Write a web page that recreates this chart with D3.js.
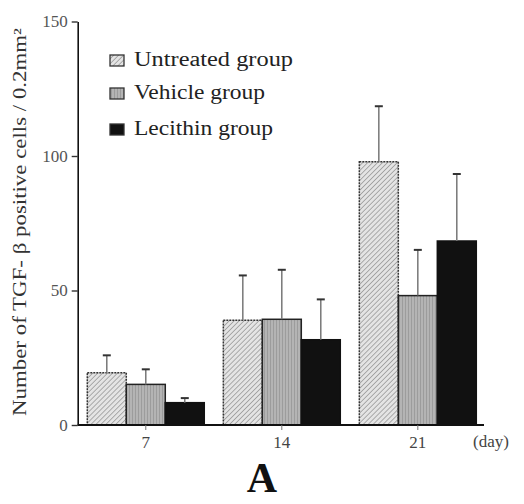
<!DOCTYPE html>
<html><head><meta charset="utf-8">
<script src="https://cdn.jsdelivr.net/npm/d3@7"></script>
<style>
html,body{margin:0;padding:0;background:#fff;}
svg{display:block;font-family:"Liberation Serif","DejaVu Serif",serif;}
</style></head>
<body>
<svg id="chart" width="524" height="504"></svg>
<script>
const days = ["7", "14", "21"];
const seriesNames = ["Untreated group", "Vehicle group", "Lecithin group"];
const untreatedMean = [19.4, 38.9, 97.9];
const untreatedErr  = [25.9, 55.6, 118.5];
const vehicleMean   = [15.1, 39.3, 48.1];
const vehicleErr    = [20.7, 57.7, 65.1];
const lecithinMean  = [8.3, 31.7, 68.4];
const lecithinErr   = [10.0, 46.7, 93.3];
const yTicks = [0, 50, 100, 150];

const means = [untreatedMean, vehicleMean, lecithinMean];
const errs = [untreatedErr, vehicleErr, lecithinErr];
const data = [];
days.forEach((d, i) => seriesNames.forEach((s, j) => data.push({day: d, series: s, idx: j, mean: means[j][i], top: errs[j][i]})));

const svg = d3.select("#chart");
const defs = svg.append("defs");
const h = defs.append("pattern").attr("id", "hatch").attr("patternUnits", "userSpaceOnUse")
  .attr("width", 3.5).attr("height", 3.5).attr("patternTransform", "rotate(45)");
h.append("rect").attr("width", 3.5).attr("height", 3.5).attr("fill", "#e4e4e4");
h.append("line").attr("x1", 0).attr("y1", 0).attr("x2", 0).attr("y2", 3.5).attr("stroke", "#8a8a8a").attr("stroke-width", 1.3);
const v = defs.append("pattern").attr("id", "vstripe").attr("patternUnits", "userSpaceOnUse")
  .attr("width", 3).attr("height", 3);
v.append("rect").attr("width", 3).attr("height", 3).attr("fill", "#b4b4b4");
v.append("line").attr("x1", 0.5).attr("y1", 0).attr("x2", 0.5).attr("y2", 3).attr("stroke", "#9c9c9c").attr("stroke-width", 1);

const fills = ["url(#hatch)", "url(#vstripe)", "#111"];
const strokes = ["#333", "#222", "#111"];
const dashes = ["2,1", null, null];
const legendWidths = [159, 131, 139];

const y = d3.scaleLinear().domain([0, 150]).range([425, 21.5]);
const x0 = d3.scaleBand().domain(days).range([87.3, 476.3]).paddingInner(0.14).paddingOuter(0);
const x1 = d3.scaleBand().domain(seriesNames).range([0, x0.bandwidth()]).padding(0);

// bars
const g = svg.append("g");
g.selectAll("rect.bar").data(data).enter().append("rect").attr("class", "bar")
  .attr("x", d => x0(d.day) + x1(d.series))
  .attr("y", d => y(d.mean))
  .attr("width", x1.bandwidth())
  .attr("height", d => y(0) - y(d.mean))
  .attr("fill", d => fills[d.idx])
  .attr("stroke", d => strokes[d.idx])
  .attr("stroke-width", 1.5)
  .attr("stroke-dasharray", d => dashes[d.idx]);

// error bars
g.selectAll("line.err").data(data).enter().append("line").attr("class", "err")
  .attr("x1", d => x0(d.day) + x1(d.series) + x1.bandwidth() / 2)
  .attr("x2", d => x0(d.day) + x1(d.series) + x1.bandwidth() / 2)
  .attr("y1", d => y(d.mean)).attr("y2", d => y(d.top))
  .attr("stroke", "#777").attr("stroke-width", 1.5);
g.selectAll("line.cap").data(data).enter().append("line").attr("class", "cap")
  .attr("x1", d => x0(d.day) + x1(d.series) + x1.bandwidth() / 2 - 4)
  .attr("x2", d => x0(d.day) + x1(d.series) + x1.bandwidth() / 2 + 4)
  .attr("y1", d => y(d.top)).attr("y2", d => y(d.top))
  .attr("stroke", "#333").attr("stroke-width", 2);

// y axis
const yAxis = svg.append("g").attr("transform", "translate(77.7,0)")
  .call(d3.axisLeft(y).tickValues(yTicks).tickSize(6).tickPadding(4).tickSizeOuter(0));
yAxis.select(".domain").attr("stroke", "#111").attr("stroke-width", 1.6);
yAxis.selectAll(".tick line").attr("stroke", "#333").attr("stroke-width", 1.4);
yAxis.selectAll(".tick text").attr("font-size", 17).attr("fill", "#555")
  .attr("font-family", "Liberation Serif, serif");

// x axis
svg.append("line").attr("x1", 77.7).attr("x2", 484).attr("y1", y(0)).attr("y2", y(0))
  .attr("stroke", "#111").attr("stroke-width", 1.8);
const xAxis = svg.append("g").attr("transform", `translate(0,${y(0)})`)
  .call(d3.axisBottom(x0).tickSize(5).tickPadding(6).tickSizeOuter(0));
xAxis.select(".domain").remove();
xAxis.selectAll(".tick line").attr("stroke", "#777").attr("stroke-width", 1);
xAxis.selectAll(".tick text").attr("font-size", 17).attr("fill", "#444")
  .attr("font-family", "Liberation Serif, serif");

svg.append("text").attr("x", 491).attr("y", 447).attr("text-anchor", "middle")
  .attr("font-size", 17).attr("fill", "#444").text("(day)");

// y label
svg.append("text").attr("transform", "translate(26,222) rotate(-90)")
  .attr("text-anchor", "middle").attr("font-size", 18).attr("fill", "#333")
  .attr("textLength", 388).attr("lengthAdjust", "spacingAndGlyphs")
  .text("Number of TGF- β positive cells / 0.2mm²");

// legend
const legendY = [66, 99, 135];
const lg = svg.append("g");
seriesNames.forEach((s, j) => {
  lg.append("rect").attr("x", 110).attr("y", legendY[j] - 11).attr("width", 14).attr("height", 11)
    .attr("fill", fills[j]).attr("stroke", "#333").attr("stroke-width", 1.3);
  lg.append("text").attr("x", 134).attr("y", legendY[j]).attr("font-size", 20).attr("fill", "#222")
    .attr("textLength", legendWidths[j]).attr("lengthAdjust", "spacingAndGlyphs")
    .text(s);
});

// panel label
svg.append("text").attr("x", 262).attr("y", 492).attr("text-anchor", "middle")
  .attr("font-size", 42).attr("font-weight", "bold").attr("fill", "#111").text("A");
</script>
</body></html>
